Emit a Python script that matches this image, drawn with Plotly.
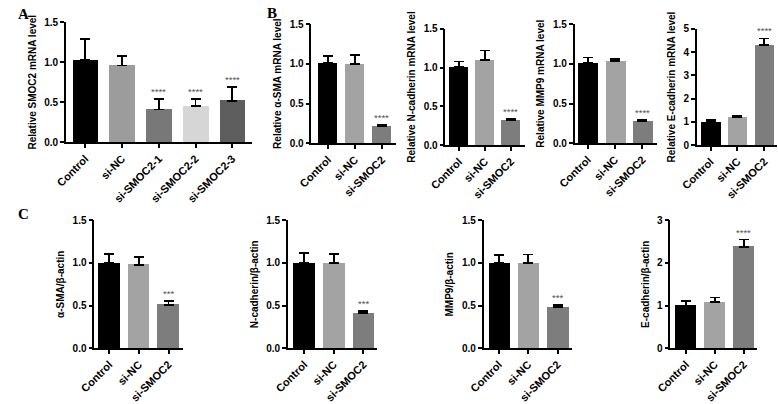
import plotly.graph_objects as go

W, H = 778, 404

# ---- data ----
groups_a = ["Control", "si-NC", "si-SMOC2-1", "si-SMOC2-2", "si-SMOC2-3"]
groups = ["Control", "si-NC", "si-SMOC2"]

smoc2_mean = [1.03, 0.96, 0.41, 0.45, 0.52]
smoc2_sem = [0.26, 0.12, 0.13, 0.09, 0.17]
smoc2_sig = ["", "", "****", "****", "****"]

asma_mrna_mean = [1.01, 1.00, 0.21]
asma_mrna_sem = [0.09, 0.11, 0.015]
ncad_mrna_mean = [1.01, 1.10, 0.32]
ncad_mrna_sem = [0.07, 0.12, 0.02]
mmp9_mrna_mean = [1.01, 1.04, 0.28]
mmp9_mrna_sem = [0.07, 0.02, 0.01]
ecad_mrna_mean = [1.02, 1.21, 4.31]
ecad_mrna_sem = [0.06, 0.05, 0.28]
mrna_sig = ["", "", "****"]

asma_prot_mean = [1.00, 0.98, 0.51]
asma_prot_sem = [0.11, 0.09, 0.04]
ncad_prot_mean = [1.00, 1.00, 0.41]
ncad_prot_sem = [0.12, 0.11, 0.03]
mmp9_prot_mean = [1.00, 1.00, 0.48]
mmp9_prot_sem = [0.09, 0.10, 0.03]
ecad_prot_mean = [1.00, 1.08, 2.38]
ecad_prot_sem = [0.10, 0.11, 0.17]
prot_sig = ["", "", "***"]
ecad_prot_sig = ["", "", "****"]

colors_a = ["#000000", "#9c9c9c", "#787878", "#d6d6d6", "#5e5e5e"]
colors3 = ["#000000", "#a3a3a3", "#7d7d7d"]

# panel geometry in pixels: axis left, axis right, top tick, zero line
panels = [
    dict(cats=groups_a, y=smoc2_mean, e=smoc2_sem, sig=smoc2_sig, col=colors_a,
         title="Relative SMOC2 mRNA level", px=(50, 240, 17, 143), xr=[-0.53, 4.53],
         yr=[0, 1.5], dt=0.5, fmt=".1f", bw=0.7),
    dict(cats=groups, y=asma_mrna_mean, e=asma_mrna_sem, sig=mrna_sig, col=colors3,
         title="Relative α-SMA mRNA level", px=(301, 387, 19, 144), xr=[-0.62, 2.51],
         yr=[0, 1.5], dt=0.5, fmt=".1f", bw=0.73),
    dict(cats=groups, y=ncad_mrna_mean, e=ncad_mrna_sem, sig=mrna_sig, col=colors3,
         title="Relative N-cadherin mRNA level", px=(438, 519, 24, 146), xr=[-0.53, 2.53],
         yr=[0, 1.5], dt=0.5, fmt=".1f", bw=0.75),
    dict(cats=groups, y=mmp9_mrna_mean, e=mmp9_mrna_sem, sig=mrna_sig, col=colors3,
         title="Relative MMP9 mRNA level", px=(570, 654, 19, 144), xr=[-0.48, 2.52],
         yr=[0, 1.5], dt=0.5, fmt=".1f", bw=0.73),
    dict(cats=groups, y=ecad_mrna_mean, e=ecad_mrna_sem, sig=mrna_sig, col=colors3,
         title="Relative E-cadherin mRNA level", px=(695, 777, 24, 146), xr=[-0.51, 2.47],
         yr=[0, 5], dt=1, fmt="d", bw=0.73),
    dict(cats=groups, y=asma_prot_mean, e=asma_prot_sem, sig=prot_sig, col=colors3,
         title="α-SMA/β-actin", px=(79, 170, 225, 359), xr=[-0.51, 2.5],
         yr=[0, 1.5], dt=0.5, fmt=".1f", bw=0.73),
    dict(cats=groups, y=ncad_prot_mean, e=ncad_prot_sem, sig=prot_sig, col=colors3,
         title="N-cadherin/β-actin", px=(277, 368, 225, 359), xr=[-0.55, 2.46],
         yr=[0, 1.5], dt=0.5, fmt=".1f", bw=0.73),
    dict(cats=groups, y=mmp9_prot_mean, e=mmp9_prot_sem, sig=prot_sig, col=colors3,
         title="MMP9/β-actin", px=(477, 567, 225, 359), xr=[-0.52, 2.48],
         yr=[0, 1.5], dt=0.5, fmt=".1f", bw=0.73),
    dict(cats=groups, y=ecad_prot_mean, e=ecad_prot_sem, sig=ecad_prot_sig, col=colors3,
         title="E-cadherin/β-actin", px=(668, 757, 225, 359), xr=[-0.54, 2.48],
         yr=[0, 3], dt=1, fmt="d", bw=0.73),
]

FONT = "Liberation Sans, Arial, sans-serif"
fig = go.Figure()
annotations = []

for i, p in enumerate(panels):
    n = "" if i == 0 else str(i + 1)
    x0, x1, yt, yb = p["px"]
    fig.add_trace(go.Bar(
        x=p["cats"], y=p["y"], width=p["bw"],
        marker=dict(color=p["col"], line=dict(width=0)),
        error_y=dict(type="data", symmetric=False, array=p["e"],
                     arrayminus=[0] * len(p["e"]), color="black",
                     thickness=1.8, width=5),
        xaxis="x" + n, yaxis="y" + n, showlegend=False,
    ))
    common = dict(showgrid=False, zeroline=False, showline=True, linecolor="black",
                  linewidth=1.5, ticks="outside", ticklen=4, tickwidth=1.5,
                  tickcolor="black")
    fig.update_layout(**{
        "xaxis" + n: dict(domain=[x0 / W, x1 / W], anchor="y" + n, range=p["xr"],
                          tickangle=-45, type="category",
                          tickfont=dict(family=FONT, size=11, color="black",
                                        weight="bold"),
                          **common),
        "yaxis" + n: dict(domain=[1 - yb / H, 1 - yt / H], anchor="x" + n,
                          range=p["yr"], dtick=p["dt"], tickformat=p["fmt"],
                          tickfont=dict(family=FONT, size=10, color="black",
                                        weight="bold"),
                          title=dict(text=p["title"], standoff=6,
                                     font=dict(family=FONT, size=10, color="black",
                                               weight="bold")),
                          **common),
    })
    for c, v, e, s in zip(p["cats"], p["y"], p["e"], p["sig"]):
        if s:
            annotations.append(dict(x=c, y=v + e, xref="x" + n, yref="y" + n,
                                    text=s, showarrow=False, yanchor="bottom", yshift=0,
                                    font=dict(family=FONT, size=9.5, color="#555555")))

for letter, lx, ly in [("A", 7, 8), ("B", 261, 7), ("C", 7, 218)]:
    annotations.append(dict(x=lx / W, y=1 - ly / H, xref="paper", yref="paper",
                            xanchor="center", yanchor="middle",
                            text="<b>" + letter + "</b>", showarrow=False,
                            font=dict(family="Liberation Serif, Times New Roman, serif",
                                      size=15, color="black")))

fig.update_layout(width=W, height=H, margin=dict(l=0, r=0, t=0, b=0),
                  paper_bgcolor="white", plot_bgcolor="white",
                  annotations=annotations, bargap=0)

fig.write_html("out.html", config={"displayModeBar": False},
               post_script="document.body.style.margin='0';")
